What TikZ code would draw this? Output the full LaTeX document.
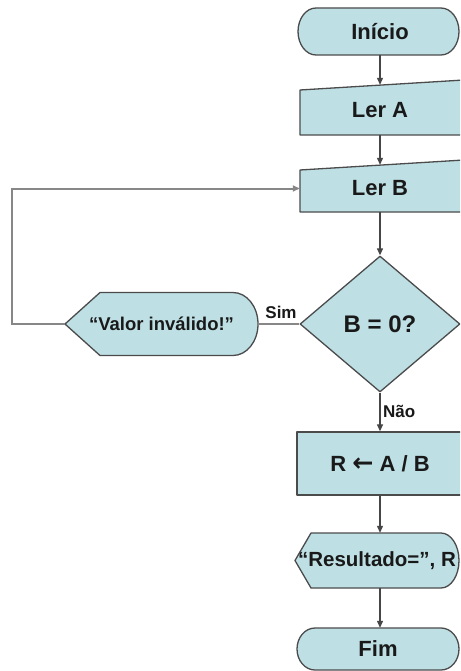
\documentclass[tikz,border=0pt]{standalone}
\usepackage{fontspec}
\setmainfont{Liberation Sans}
\newfontfamily\arrowfont{DejaVu Sans}
\usetikzlibrary{shapes.geometric,arrows.meta}
\definecolor{boxfill}{RGB}{190,224,229}
\definecolor{boxline}{RGB}{75,75,75}
\definecolor{arrline}{RGB}{70,70,70}
\definecolor{loopline}{RGB}{135,135,135}
\tikzset{
  shp/.style={draw=boxline,fill=boxfill,line width=1.3pt,line join=round},
  txt/.style={inner sep=0pt,font=\bfseries\fontsize{22}{26}\selectfont,text=black!90},
  arr/.style={draw=arrline,line width=1.2pt,-{Triangle[length=7pt,width=6pt]}},
  back/.style={draw=loopline,line width=2pt},
  backarr/.style={back,-{Triangle[length=7pt,width=6pt]}},
  lbl/.style={inner sep=0pt,font=\bfseries\fontsize{17}{20}\selectfont,text=black!90}
}
\begin{document}
\begin{tikzpicture}[x=1pt,y=-1pt]
\clip (0,0) rectangle (460,671);
\fill[white] (0,0) rectangle (460,671);
% Inicio
\draw[shp] (316,8) -- (441,8) arc[start angle=-90,end angle=90,x radius=18,y radius=23.5]
  -- (316,55) arc[start angle=90,end angle=270,x radius=18,y radius=23.5] -- cycle;
\node[txt,minimum width=161,minimum height=47] (inicio) at (380,31.5) {Início};
% Ler A
\draw[shp] (300,90) -- (464,80) -- (464,135) -- (300,135) -- cycle;
\node[txt,minimum width=160,minimum height=50] (lera) at (380,110) {Ler A};
% Ler B
\draw[shp] (300,170) -- (464,160) -- (464,212) -- (300,212) -- cycle;
\node[txt,minimum width=160,minimum height=47] (lerb) at (380,188.5) {Ler B};
% Decision
\node[shp,diamond,minimum width=160,minimum height=136,inner sep=0pt,
      font=\bfseries\fontsize{24}{28}\selectfont,text=black!90] (dec) at (380,324) {B = 0?};
% Valor invalido (display)
\draw[shp] (65,324) -- (100,292.5) -- (233,292.5)
  arc[start angle=-90,end angle=90,x radius=25,y radius=31.5]
  -- (100,355.5) -- cycle;
\node[txt,font=\bfseries\fontsize{18.5}{22}\selectfont,minimum width=193,minimum height=63] (valor) at (161.5,324) {“Valor inválido!”};
% R box
\node[shp,txt,minimum width=166,minimum height=63] (rbox) at (380,463.5) {R {\arrowfont\bfseries\scalebox{1.15}{←}} A / B};
% Resultado (display)
\draw[shp] (295,560.5) -- (311,533) -- (441,533)
  arc[start angle=-90,end angle=90,x radius=18,y radius=27.5]
  -- (311,588) -- cycle;
\node[txt,font=\bfseries\fontsize{20.5}{24}\selectfont,minimum width=164,minimum height=55] (res) at (377,560.5) {“Resultado=”, R};
% Fim
\draw[shp] (315,628) -- (441,628) arc[start angle=-90,end angle=90,x radius=18,y radius=21]
  -- (315,670) arc[start angle=90,end angle=270,x radius=18,y radius=21] -- cycle;
\node[txt,minimum width=162,minimum height=42] (fim) at (378,649) {Fim};
% connectors
\draw[arr] (inicio.south -| lera.north) -- (lera.north);
\draw[arr] (lera.south) -- (lerb.north);
\draw[arr] (lerb.south) -- (dec.north);
\draw[arr] (dec.south) -- (rbox.north);
\draw[arr] (rbox.south) -- (rbox.south |- res.north);
\draw[arr] (rbox.south |- res.south) -- (rbox.south |- fim.north);
\draw[back] (dec.west) -- (valor.east);
\draw[backarr] (valor.west) -- ++(-53,0) |- (lerb.west);
% labels
\node[lbl] (sim) at (281,312) {Sim};
\node[lbl,anchor=west] (nao) at (383,411) {Não};
\end{tikzpicture}
\end{document}
